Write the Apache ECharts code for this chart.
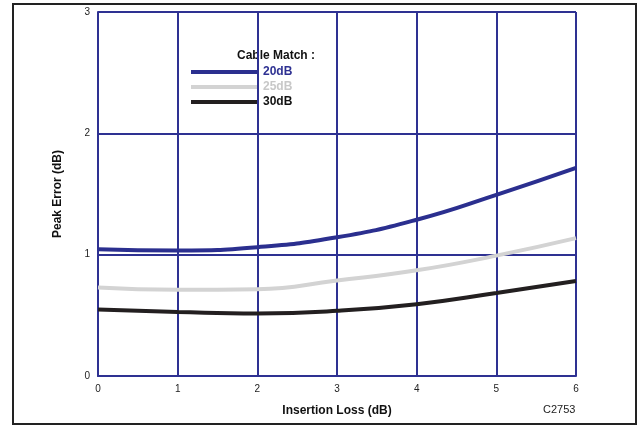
<!DOCTYPE html>
<html>
<head>
<meta charset="utf-8">
<script src="https://cdn.jsdelivr.net/npm/echarts@6/dist/echarts.min.js"></script>
<style>
html, body { margin: 0; padding: 0; background: #fff; }
#chart { width: 642px; height: 425px; }
</style>
</head>
<body>
<div id="chart"></div>
<script>
// data
var insertionLoss = [0, 1, 2, 3, 4, 5, 6];
var match20 = [1.045, 1.035, 1.062, 1.143, 1.288, 1.493, 1.715];
var match25 = [0.729, 0.710, 0.716, 0.787, 0.871, 0.992, 1.136];
var match30 = [0.548, 0.528, 0.516, 0.537, 0.592, 0.684, 0.783];
var seriesNames = ['20dB', '25dB', '30dB'];
var seriesColors = ['#2b2f8f', '#d3d3d3', '#231f20'];
var xTicks = [0, 1, 2, 3, 4, 5, 6];
var yTicks = [0, 1, 2, 3];

var navy = '#2e3192';
var font = '"Liberation Sans", Arial, sans-serif';

function pairs(vals) {
    return insertionLoss.map(function (x, i) { return [x, vals[i]]; });
}

var chart = echarts.init(document.getElementById('chart'));
var allVals = [match20, match25, match30];

chart.setOption({
    animation: false,
    backgroundColor: '#fff',
    grid: { left: 98, right: 66, top: 12, bottom: 49 },
    xAxis: {
        type: 'value',
        min: xTicks[0], max: xTicks[xTicks.length - 1], interval: 1,
        name: 'Insertion Loss (dB)',
        nameLocation: 'middle', nameGap: 29,
        nameTextStyle: { fontFamily: font, fontWeight: 'bold', fontSize: 12, color: '#111' },
        axisLine: { show: true, lineStyle: { color: navy, width: 2 } },
        axisTick: { show: false },
        axisLabel: { margin: 8, fontFamily: font, fontSize: 10, color: '#222' },
        splitLine: { show: true, lineStyle: { color: navy, width: 2 } }
    },
    yAxis: {
        type: 'value',
        min: yTicks[0], max: yTicks[yTicks.length - 1], interval: 1,
        name: 'Peak Error (dB)',
        nameLocation: 'middle', nameGap: 34,
        nameTextStyle: { fontFamily: font, fontWeight: 'bold', fontSize: 12, color: '#111' },
        axisLine: { show: true, lineStyle: { color: navy, width: 2 } },
        axisTick: { show: false },
        axisLabel: { margin: 8, fontFamily: font, fontSize: 10, color: '#222', verticalAlign: 'middle' },
        splitLine: { show: true, lineStyle: { color: navy, width: 2 } }
    },
    legend: {
        left: 191, top: 66, padding: 0,
        orient: 'vertical',
        itemWidth: 66, itemHeight: 4, itemGap: 3,
        icon: 'rect',
        data: seriesNames.map(function (n, i) {
            return { name: n, textStyle: { color: i === 0 ? navy : (i === 1 ? '#c8c8c8' : '#111') } };
        }),
        textStyle: { fontFamily: font, fontWeight: 'bold', fontSize: 12, padding: [0, 0, 0, 1] }
    },
    series: seriesNames.map(function (n, i) {
        return {
            name: n,
            type: 'line',
            smooth: 0.5,
            showSymbol: false,
            z: 5,
            lineStyle: { color: seriesColors[i], width: 4 },
            itemStyle: { color: seriesColors[i] },
            data: pairs(allVals[i])
        };
    }),
    graphic: [
        {
            type: 'rect', silent: true, z: -1,
            shape: { x: 13, y: 4, width: 623, height: 420 },
            style: { fill: null, stroke: '#222', lineWidth: 2 }
        },
        {
            type: 'text', left: 237, top: 50,
            style: { text: 'Cable Match :', fontFamily: font, fontWeight: 'bold', fontSize: 12, fill: '#111' }
        },
        {
            type: 'text', left: 543, top: 404,
            style: { text: 'C2753', fontFamily: font, fontSize: 11, fill: '#222' }
        }
    ]
});
</script>
</body>
</html>
